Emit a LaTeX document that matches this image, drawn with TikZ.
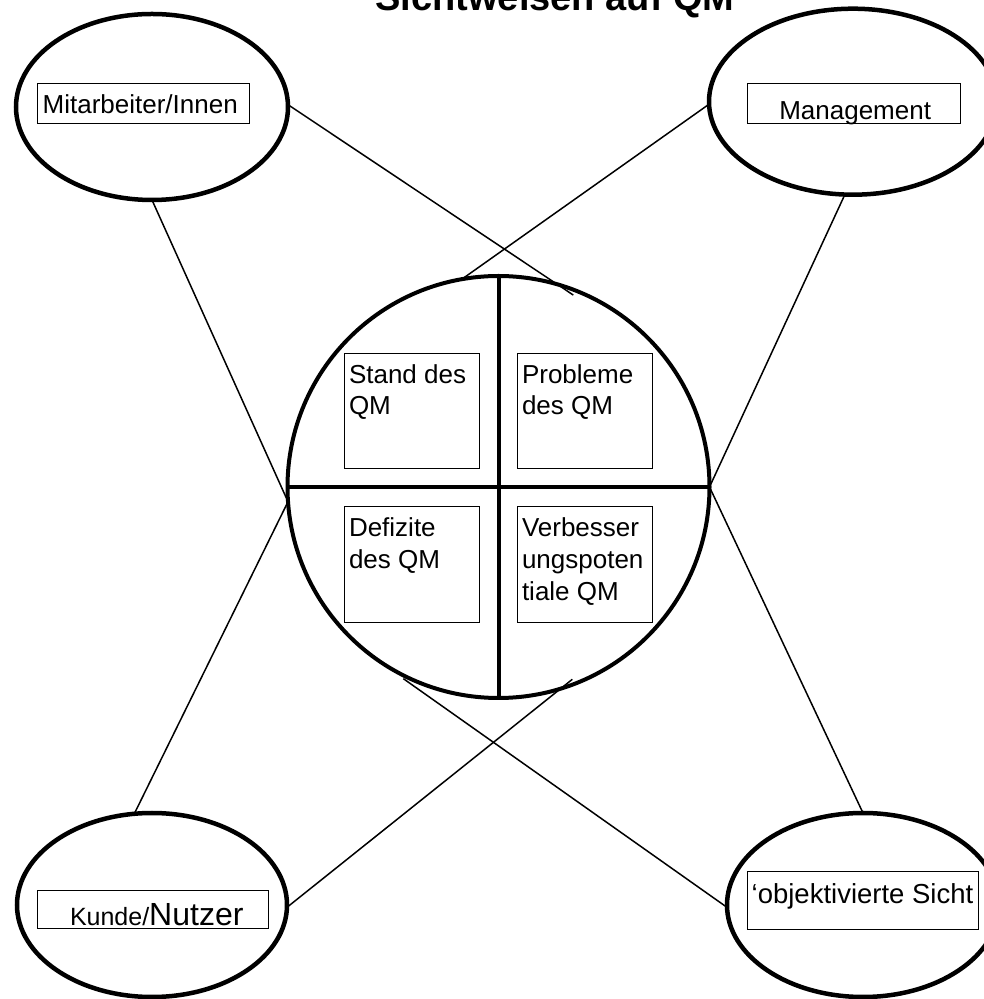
\documentclass[tikz,border=0pt]{standalone}
\usepackage{fontspec}
\setmainfont{Liberation Sans}
\usetikzlibrary{shapes.geometric,calc}
% width, height, depth below baseline, left indent, text
\newcommand\fbtext[5]{\rule[-#3pt]{0pt}{#2pt}\makebox[#1pt][l]{\hspace*{#4pt}\smash{#5}}}
\newcommand\qmtext[1]{\fbtext{134.6}{115.7}{85.7}{4.3}{\parbox[t]{130pt}{\fontsize{26}{31.7}\selectfont\raggedright #1}}}
\begin{document}
\begin{tikzpicture}[x=1pt,y=1pt,
  bubble/.style={draw, ellipse, line width=4.5pt, inner sep=0pt, outer sep=0pt, fill=white},
  tag/.style={draw, line width=1pt, inner sep=0pt, outer sep=0pt, anchor=south west, font=\fontsize{26}{30}\selectfont},
  qbox/.style={draw, line width=1pt, inner sep=0pt, outer sep=0pt, anchor=north west},
  link/.style={line width=1.5pt},
  divider/.style={line width=4pt}]
\fill[white] (0,0) rectangle (984,999);
\useasboundingbox (0,0) rectangle (984,999);

% title (cut at the top)
\node[anchor=base, inner sep=0pt, font=\bfseries\fontsize{38}{44}\selectfont] (title) at (555,988) {Sichtweisen auf QM};

% outer ellipses
\node[bubble, minimum width=272pt, minimum height=186pt] (mit) at (152,892) {};
\node[bubble, minimum width=288pt, minimum height=186pt] (man) at (853,897.3) {};
\node[bubble, minimum width=270pt, minimum height=184pt] (kun) at (152,94) {};
\node[bubble, minimum width=272pt, minimum height=184pt] (obj) at (863,94) {};

% labels in ellipses
\node[tag] (mitl) at (37.3,875) {\fbtext{212}{40}{10.7}{5.4}{Mitarbeiter/Innen}};
\node[tag] (manl) at (747.7,875) {\fbtext{212.3}{40}{4.7}{31.6}{Management}};
\node[tag] (kunl) at (37.3,70) {\fbtext{231}{38.3}{3}{32.7}{{\fontsize{25}{30}\selectfont Kunde/}{\fontsize{32}{36}\selectfont Nutzer}}};
\node[tag, font=\fontsize{27.5}{32}\selectfont] (objl) at (747.7,69.7) {\fbtext{231}{57.6}{26}{4}{‘objektivierte Sicht}};

% central circle
\node[draw, circle, line width=4pt, minimum size=422pt, inner sep=0pt, outer sep=0pt] (qm) at (498.5,512) {};
\draw[divider] (qm.north) -- (qm.south);
\draw[divider] (qm.west) -- (qm.east);

% quadrant boxes
\node[qbox] (stand) at (344.7,645.7) {\qmtext{Stand des\\QM}};
\node[qbox] (prob) at (517.7,645.7) {\qmtext{Probleme\\des QM}};
\node[qbox] (defi) at (344.7,492) {\qmtext{Defizite\\des QM}};
\node[qbox] (verb) at (517.7,492) {\qmtext{Verbesser\\ungspoten\\tiale QM}};

% connectors
\draw[link] (mit.1) -- ($(qm.center)+(68.7:206)$);
\draw[link] (man.181) -- (qm.100);
\draw[link] (mit.-90) -- (qm.184);
\draw[link] (kun.101) -- (qm.184);
\draw[link] (man.-95) -- (qm.0);
\draw[link] (obj.90) -- (qm.0);
\draw[link] (kun.-1) -- ($(qm.center)+(-69:206)$);
\draw[link] (obj.181) -- ($(qm.center)+(-116.4:214)$);
\end{tikzpicture}
\end{document}
